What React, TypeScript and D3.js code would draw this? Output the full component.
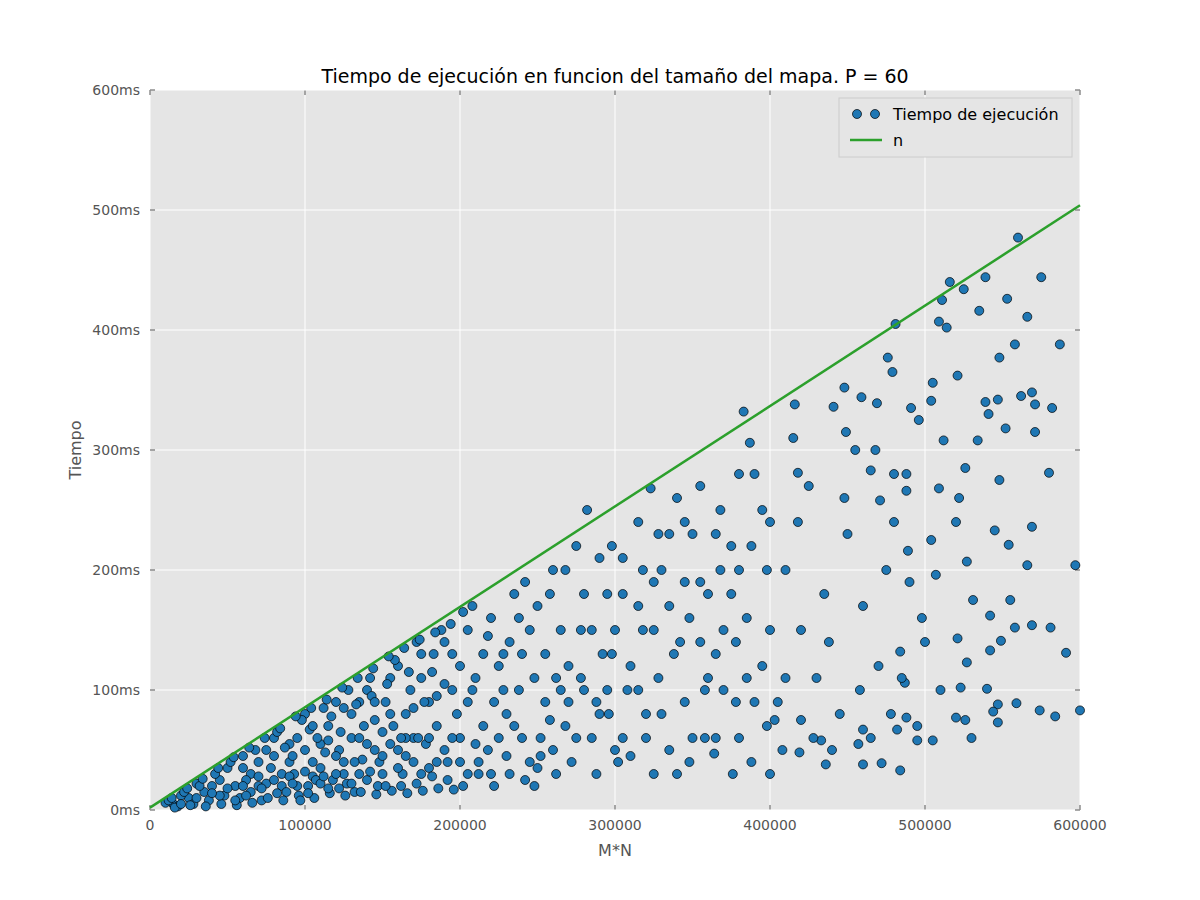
import * as d3 from "d3";

// x in thousands of cells (M*N / 1000), y in ms
const points: [number, number][] = [
  [560,477],[575,444],[516,440],[539,444],[525,434],[553,426],[511,425],[535,416],[566,411],[481,405],
  [509,407],[514,402],[587,388],[558,388],[548,377],[476,377],[479,365],[521,362],[505,356],[569,348],
  [562,345],[448,352],[547,342],[539,340],[552,318],[571,338],[582,335],[383,332],[416,338],[441,336],
  [459,344],[504,341],[469,339],[491,335],[571,315],[496,325],[449,315],[541,330],[534,308],[512,308],
  [580,281],[526,285],[480,280],[465,283],[418,281],[387,306],[323,268],[509,268],[522,260],[471,258],
  [488,266],[548,275],[545,233],[569,236],[554,221],[489,216],[504,225],[597,204],[566,204],[527,207],
  [507,196],[531,175],[555,175],[542,162],[569,154],[581,152],[558,152],[521,143],[549,141],[591,131],
  [542,133],[527,123],[484,132],[487,106],[523,102],[540,101],[600,83],[574,83],[547,88],[544,82],
  [559,89],[547,73],[488,77],[520,77],[584,78],[526,75],[505,58],[495,58],[460,67],[482,67],
  [472,39],[484,33],[460,38],[436,38],[457,55],[400,30],[376,30],[419,48],[433,58],[403,75],[364,47],
  [300,150],[310,120],[320,80],[330,200],[340,260],[350,230],[360,180],[370,100],[380,60],[390,280],
  [400,240],[410,200],[420,150],[430,110],[440,50],[450,230],[460,170],[470,120],[480,240],[490,190],
  [500,140],[510,100],[520,240],[530,60],[380,280],[365,230],[355,140],[345,90],[335,50],[325,30],
  [315,240],[305,180],[295,100],[285,60],[275,220],[265,150],[255,90],[245,40],[235,180],[225,120],
  [215,70],[205,150],[195,100],[185,40],[175,130],[165,80],[155,110],[145,50],[135,90],[125,30],
  [115,70],[105,40],[95,60],[85,20],[75,50],[65,30],[55,20],[45,25],[35,15],[25,10],[15,5],
  [290,210],[280,180],[270,120],[260,200],[250,170],[240,130],[230,80],[220,160],[210,110],[200,60],
  [190,140],[180,90],[170,60],[160,120],[150,30],[140,100],[130,60],[120,90],[110,55],[100,80],
  [90,40],[80,60],[70,20],[60,45],[50,35],[40,20],[30,22],[20,12],[10,6],
  [305,60],[315,100],[325,150],[335,230],[345,190],[355,270],[365,60],[375,220],[385,160],[395,120],
  [405,90],[415,310],[425,270],[435,180],[445,80],[455,300],[465,60],[475,200],[485,110],[495,70],
  [302,40],[318,200],[328,110],[342,140],[348,40],[358,100],[368,250],[378,140],[388,40],[398,200],
  [408,50],[418,240],[428,60],[438,140],[448,260],[458,100],[468,300],[478,80],[488,280],[498,160],
  [212,30],[222,90],[232,140],[242,190],[252,60],[262,110],[272,40],[282,250],[292,130],[298,220],
  [208,170],[218,50],[228,130],[238,100],[248,20],[258,180],[268,70],[278,150],[288,30],[296,80],
  [12,8],[18,3],[22,15],[28,5],[32,20],[38,8],[42,30],[48,12],[52,40],[58,10],[62,25],[68,50],
  [72,8],[78,35],[82,65],[88,15],[92,45],[98,75],[102,20],[108,60],[112,85],[118,25],[122,50],
  [128,100],[132,15],[138,70],[142,110],[148,40],[152,90],[158,125],[162,20],[168,100],[172,140],
  [178,55],[182,115],[188,150],[192,25],[198,80],[202,165],[205,30],[14,10],[24,18],[34,26],[44,35],
  [54,44],[64,52],[74,60],[84,68],[94,78],[104,85],[114,92],[124,102],[134,110],[144,118],[154,128],
  [164,135],[174,142],[184,148],[194,155],
  [16,2],[26,4],[36,3],[46,5],[56,4],[66,6],[76,10],[86,8],[96,12],[106,10],[116,14],[126,12],
  [136,15],[146,13],[156,16],[166,14],[176,16],[186,18],[196,17],[45,12],[55,8],[65,15],[75,22],
  [85,30],[95,20],[105,28],[115,18],[125,40],[135,30],[145,75],[155,55],[165,45],[175,30],[185,70],
  [195,60],[60,35],[70,40],[80,45],[90,55],[100,50],[110,35],[120,45],[130,80],[140,55],[150,65],
  [160,50],[170,85],[180,35],[190,105],[200,120],[87,52],[93,30],[97,8],[103,67],[107,25],[113,48],
  [117,78],[123,65],[127,22],[133,88],[137,42],[143,95],[147,20],[153,105],[157,70],[163,30],
  [167,115],[173,60],[177,90],[183,130],
  [20,5],[30,10],[40,14],[50,18],[60,20],[70,28],[80,25],[90,28],[100,32],[110,22],[120,30],
  [130,22],[140,25],[150,45],[160,35],[170,40],[180,60],[190,50],[200,40],[210,55],[220,30],
  [230,45],[240,60],[250,35],[260,50],[270,90],[280,100],[290,80],[300,50],[310,45],[320,60],
  [330,80],[340,30],[350,60],[360,110],[370,150],[380,200],[390,90],[400,150],[410,110],[420,75],
  [105,70],[115,58],[125,85],[135,60],[145,90],[155,80],[165,60],[175,110],[185,95],[195,130],
  [205,90],[215,130],[225,60],[235,70],[245,150],[255,130],[265,100],[275,60],[285,150],[295,180],
  [305,210],[315,170],[325,190],[335,170],[345,240],[355,190],[365,130],[375,180],[385,110],[395,250],
  [208,100],[218,145],[228,100],[238,160],[248,110],[258,75],[268,200],[278,110],[288,90],[298,130],
  [308,100],[318,150],[328,230],[338,130],[348,160],[358,60],[368,200],[378,90],[388,220],[398,70],
  [62,12],[72,18],[82,14],[92,22],[102,14],[112,28],[122,18],[132,40],[142,32],[152,20],[162,60],
  [172,22],[182,28],[192,40],[202,20],[212,40],[222,20],[232,30],[242,25],[252,45],[262,30],
];
const fitLine: [number, number][] = [[0, 2], [600, 504]];
const xTicks = [0, 100000, 200000, 300000, 400000, 500000, 600000];
const yTicks = [0, 100, 200, 300, 400, 500, 600];

export default function App() {
  const W = 1200, H = 900;
  const m = { left: 150, right: 120, top: 90, bottom: 90 };
  const x = d3.scaleLinear().domain([0, 600000]).range([m.left, W - m.right]);
  const y = d3.scaleLinear().domain([0, 600]).range([H - m.bottom, m.top]);
  const y0 = H - m.bottom, x1 = W - m.right;
  const font = "DejaVu Sans, sans-serif";
  return (
    <svg width={W} height={H} style={{ display: "block", margin: -8 }} fontFamily={font}>
      <rect width={W} height={H} fill="#fff" />
      <rect x={m.left} y={m.top} width={x1 - m.left} height={y0 - m.top} fill="#e5e5e5" />
      {xTicks.map((t) => (
        <g key={"x" + t}>
          <line x1={x(t)} x2={x(t)} y1={m.top} y2={y0} stroke="#fff" />
          <line x1={x(t)} x2={x(t)} y1={y0} y2={y0 - 5} stroke="#555" />
          <line x1={x(t)} x2={x(t)} y1={m.top} y2={m.top + 5} stroke="#555" />
          <text x={x(t)} y={y0 + 20} textAnchor="middle" fontSize={14} fill="#555">{t}</text>
        </g>
      ))}
      {yTicks.map((t) => (
        <g key={"y" + t}>
          <line x1={m.left} x2={x1} y1={y(t)} y2={y(t)} stroke="#fff" />
          <line x1={m.left} x2={m.left + 5} y1={y(t)} y2={y(t)} stroke="#555" />
          <line x1={x1} x2={x1 - 5} y1={y(t)} y2={y(t)} stroke="#555" />
          <text x={m.left - 10} y={y(t) + 5} textAnchor="end" fontSize={14} fill="#555">{t}ms</text>
        </g>
      ))}
      {points.map(([px, py], i) => (
        <circle key={i} cx={x(px * 1000)} cy={y(py)} r={4.5} fill="#1f77b4" stroke="#000" strokeWidth={0.7} />
      ))}
      <path
        d={d3.line<[number, number]>().x((d) => x(d[0] * 1000)).y((d) => y(d[1]))(fitLine) ?? ""}
        stroke="#2ca02c" strokeWidth={2.5} fill="none"
      />
      <text x={(m.left + x1) / 2} y={83} textAnchor="middle" fontSize={19}>
        Tiempo de ejecución en funcion del tamaño del mapa. P = 60
      </text>
      <text x={(m.left + x1) / 2} y={856} textAnchor="middle" fontSize={16} fill="#555">M*N</text>
      <text transform={`translate(81,${(m.top + y0) / 2}) rotate(-90)`} textAnchor="middle" fontSize={16} fill="#555">Tiempo</text>
      <g>
        <rect x={839} y={98} width={233} height={59} fill="#e5e5e5" stroke="#ccc" />
        <circle cx={857} cy={114} r={4.5} fill="#1f77b4" stroke="#000" strokeWidth={0.7} />
        <circle cx={875} cy={114} r={4.5} fill="#1f77b4" stroke="#000" strokeWidth={0.7} />
        <text x={893} y={120} fontSize={16}>Tiempo de ejecución</text>
        <line x1={850} x2={882} y1={140} y2={140} stroke="#2ca02c" strokeWidth={2.5} />
        <text x={893} y={146} fontSize={16}>n</text>
      </g>
    </svg>
  );
}
